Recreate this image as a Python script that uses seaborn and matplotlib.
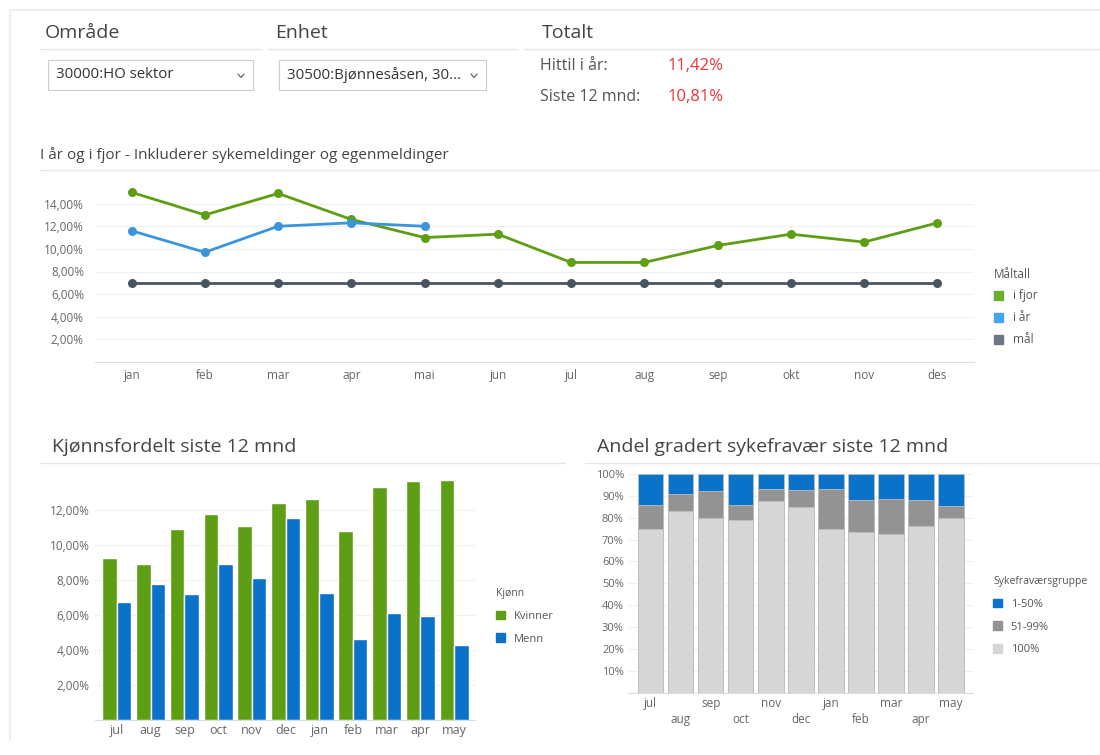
import matplotlib
matplotlib.use('Agg')
import matplotlib.pyplot as plt
import matplotlib.patches as mpatches
from matplotlib.lines import Line2D
import seaborn as sns
import pandas as pd

sns.set_style('white')
plt.rcParams['font.family'] = ['Open Sans', 'DejaVu Sans']

# data
months_no = ['jan', 'feb', 'mar', 'apr', 'mai', 'jun', 'jul', 'aug', 'sep', 'okt', 'nov', 'des']
i_fjor = [15.0, 13.0, 14.9, 12.6, 11.0, 11.3, 8.8, 8.8, 10.3, 11.3, 10.6, 12.3]
i_aar = [11.6, 9.7, 12.0, 12.3, 12.0]
maal = [7.0] * 12

months_12 = ['jul', 'aug', 'sep', 'oct', 'nov', 'dec', 'jan', 'feb', 'mar', 'apr', 'may']
kvinner = [9.25, 8.95, 10.9, 11.8, 11.1, 12.4, 12.65, 10.8, 13.35, 13.65, 13.7]
menn = [6.75, 7.8, 7.2, 8.9, 8.15, 11.55, 7.25, 4.65, 6.1, 5.95, 4.3]

pct_100 = [75, 83, 80, 79, 87.5, 85, 75, 73.5, 72.5, 76, 80]
pct_51_99 = [11, 8, 12, 7, 5.5, 7.5, 18, 14.5, 16, 12, 5.5]
pct_1_50 = [14, 9, 8, 14, 7, 7.5, 7, 12, 11.5, 12, 14.5]

hittil = '11,42%'
siste12 = '10,81%'

GREEN = '#5e9e14'
BLUE_LINE = '#3a95dc'
GRAY_LINE = '#4a545e'
BAR_BLUE = '#0a72c8'
MID_GRAY = '#939393'
LIGHT_GRAY = '#d6d6d6'
TXT = '#444444'
TICK = '#666666'

W, H = 1100, 755
fig = plt.figure(figsize=(W / 100, H / 100), dpi=100)


def px(x, y):
    return x / W, 1 - y / H


def ax_rect(left, top, right, bottom):
    return [left / W, 1 - bottom / H, (right - left) / W, (bottom - top) / H]


def hline(x0, x1, y, color='#e6e6e6', lw=1.0):
    fig.add_artist(Line2D([x0 / W, x1 / W], [1 - y / H, 1 - y / H], color=color, lw=lw))


def ftext(x, y, s, **kw):
    fx, fy = px(x, y)
    fig.text(fx, fy, s, **kw)


def pct_fmt(v, dec=2):
    return f'{v:.{dec}f}'.replace('.', ',') + '%'


def add_legend(handles, title, x, y, fontsize, title_size, spacing):
    fx, fy = px(x, y)
    leg = fig.legend(handles=handles, title=title, loc='upper left', bbox_to_anchor=(fx, fy),
                     frameon=False, fontsize=fontsize, title_fontsize=title_size,
                     alignment='left', handlelength=0.8, handleheight=0.8,
                     handletextpad=0.8, labelspacing=spacing, labelcolor='#555555')
    leg.get_title().set_color('#555555')
    return leg


# frame lines
hline(10, 1100, 10, color='#eeeeee', lw=1.5)
fig.add_artist(Line2D([10 / W, 10 / W], [1 - 10 / H, 1 - 740 / H], color='#eeeeee', lw=1.5))

# header
ftext(45, 33, 'Område', fontsize=14, color=TXT, va='center')
ftext(275, 33, 'Enhet', fontsize=14, color=TXT, va='center')
ftext(542, 33, 'Totalt', fontsize=14, color=TXT, va='center')
hline(40, 262, 49)
hline(268, 518, 49)
hline(524, 1100, 49)

for x0, x1, label in [(48, 253, '30000:HO sektor'), (279, 486, '30500:Bjønnesåsen, 30...')]:
    fx0, fy0 = px(x0, 90)
    box = mpatches.Rectangle((fx0, fy0), (x1 - x0) / W, 30 / H, transform=fig.transFigure,
                             facecolor='white', edgecolor='#cccccc', lw=0.8)
    fig.add_artist(box)
    ftext(x0 + 8, 75, label, fontsize=10.8, color='#333333', va='center')
    cx = x1 - 12
    fig.add_artist(Line2D([(cx - 3) / W, cx / W, (cx + 3) / W],
                          [1 - 74 / H, 1 - 77.5 / H, 1 - 74 / H], color='#666666', lw=0.9))

ftext(540, 66, 'Hittil i år:', fontsize=11.5, color='#555555', va='center')
ftext(540, 97, 'Siste 12 mnd:', fontsize=11.5, color='#555555', va='center')
ftext(668, 66, hittil, fontsize=12, color='#e8353a', va='center')
ftext(668, 97, siste12, fontsize=12, color='#e8353a', va='center')

# line chart
ftext(40, 155, 'I år og i fjor - Inkluderer sykemeldinger og egenmeldinger', fontsize=11,
      color=TXT, va='center')
hline(40, 1100, 170)

line_df = pd.concat([
    pd.DataFrame({'pos': range(len(i_fjor)), 'verdi': i_fjor, 'serie': 'i fjor'}),
    pd.DataFrame({'pos': range(len(i_aar)), 'verdi': i_aar, 'serie': 'i år'}),
    pd.DataFrame({'pos': range(len(maal)), 'verdi': maal, 'serie': 'mål'}),
])
ax1 = fig.add_axes(ax_rect(95, 181, 974, 362))
sns.lineplot(data=line_df, x='pos', y='verdi', hue='serie', marker='o', markersize=6.5,
             markeredgewidth=0, linewidth=2,
             palette={'i fjor': GREEN, 'i år': BLUE_LINE, 'mål': GRAY_LINE},
             hue_order=['mål', 'i fjor', 'i år'], legend=False, ax=ax1)
ax1.set_xlim(-0.5, len(months_no) - 0.5)
ax1.set_ylim(0, 16)
yt = [2, 4, 6, 8, 10, 12, 14]
ax1.set_yticks(yt)
ax1.set_yticklabels([pct_fmt(v) for v in yt])
ax1.set_xticks(range(len(months_no)))
ax1.set_xticklabels(months_no)
ax1.set_xlabel('')
ax1.set_ylabel('')
ax1.grid(axis='y', color='#f0f0f0', lw=0.8)
ax1.set_axisbelow(True)
for s in ['top', 'right', 'left']:
    ax1.spines[s].set_visible(False)
ax1.spines['bottom'].set_color('#dddddd')
ax1.tick_params(length=0, labelsize=8.5, colors=TICK, pad=8)
ax1.tick_params(axis='x', pad=5)

leg1 = [mpatches.Patch(color=c, label=l) for l, c in
        [('i fjor', '#6cad2c'), ('i år', '#45a5ea'), ('mål', '#6b7784')]]
add_legend(leg1, 'Måltall', 983, 257, 8.5, 8.5, 0.75)

# gender bar chart
ftext(52, 447, 'Kjønnsfordelt siste 12 mnd', fontsize=14, color=TXT, va='center')
hline(40, 565, 463)

bar_df = pd.concat([
    pd.DataFrame({'mnd': months_12, 'verdi': kvinner, 'kjonn': 'Kvinner'}),
    pd.DataFrame({'mnd': months_12, 'verdi': menn, 'kjonn': 'Menn'}),
])
ax2 = fig.add_axes(ax_rect(95, 470, 475, 720))
sns.barplot(data=bar_df, x='mnd', y='verdi', hue='kjonn', order=months_12,
            palette={'Kvinner': GREEN, 'Menn': BAR_BLUE}, width=0.86, gap=0,
            saturation=1, legend=False, ax=ax2)
ax2.set_xlim(-0.65, len(months_12) - 0.38)
ax2.set_ylim(0, 14.3)
yt2 = [2, 4, 6, 8, 10, 12]
ax2.set_yticks(yt2)
ax2.set_yticklabels([pct_fmt(v) for v in yt2])
ax2.set_xlabel('')
ax2.set_ylabel('')
ax2.grid(axis='y', color='#f0f0f0', lw=0.8)
ax2.set_axisbelow(True)
for s in ['top', 'right', 'left']:
    ax2.spines[s].set_visible(False)
ax2.spines['bottom'].set_color('#dddddd')
ax2.tick_params(length=0, labelsize=8.5, colors=TICK, pad=4)
ax2.tick_params(axis='x', labelsize=9, pad=3)

leg2 = [mpatches.Patch(color=c, label=l) for l, c in [('Kvinner', GREEN), ('Menn', BAR_BLUE)]]
add_legend(leg2, 'Kjønn', 486, 578, 8, 7.5, 1.05)

# graded absence stacked chart
ftext(597, 447, 'Andel gradert sykefravær siste 12 mnd', fontsize=14, color=TXT, va='center')
hline(585, 1100, 463)

stack_df = pd.DataFrame({'mnd': months_12, 'p100': pct_100, 'p51': pct_51_99, 'p1': pct_1_50})
stack_df['top_p1'] = stack_df['p100'] + stack_df['p51'] + stack_df['p1']
stack_df['top_p51'] = stack_df['p100'] + stack_df['p51']

ax3 = fig.add_axes(ax_rect(628, 474, 973, 692.7))
for col, color in [('top_p1', BAR_BLUE), ('top_p51', MID_GRAY), ('p100', LIGHT_GRAY)]:
    sns.barplot(data=stack_df, x='mnd', y=col, order=months_12, color=color, saturation=1,
                width=0.85, edgecolor='#bdbdbd', linewidth=0.6, ax=ax3)
ax3.set_xlim(-0.75, len(months_12) - 0.27)
ax3.set_ylim(0, 100)
yt3 = list(range(10, 101, 10))
ax3.set_yticks(yt3)
ax3.set_yticklabels([f'{v}%' for v in yt3])
ax3.set_xticks(range(len(months_12)))
ax3.set_xticklabels([m if i % 2 == 0 else '\n' + m for i, m in enumerate(months_12)],
                    linespacing=1.3)
ax3.set_xlabel('')
ax3.set_ylabel('')
ax3.grid(axis='y', color='#f0f0f0', lw=0.8)
ax3.set_axisbelow(True)
for s in ['top', 'right', 'left']:
    ax3.spines[s].set_visible(False)
ax3.spines['bottom'].set_color('#dddddd')
ax3.tick_params(length=0, labelsize=8, colors=TICK, pad=3)
ax3.tick_params(axis='x', labelsize=8.5)
for lbl in ax3.get_xticklabels():
    lbl.set_va('top')

leg3 = [mpatches.Patch(color=c, label=l) for l, c in
        [('1-50%', BAR_BLUE), ('51-99%', MID_GRAY), ('100%', LIGHT_GRAY)]]
add_legend(leg3, 'Sykefraværsgruppe', 983, 566, 8, 7.5, 1.05)

fig.savefig('out.png', dpi=100, facecolor='white')
